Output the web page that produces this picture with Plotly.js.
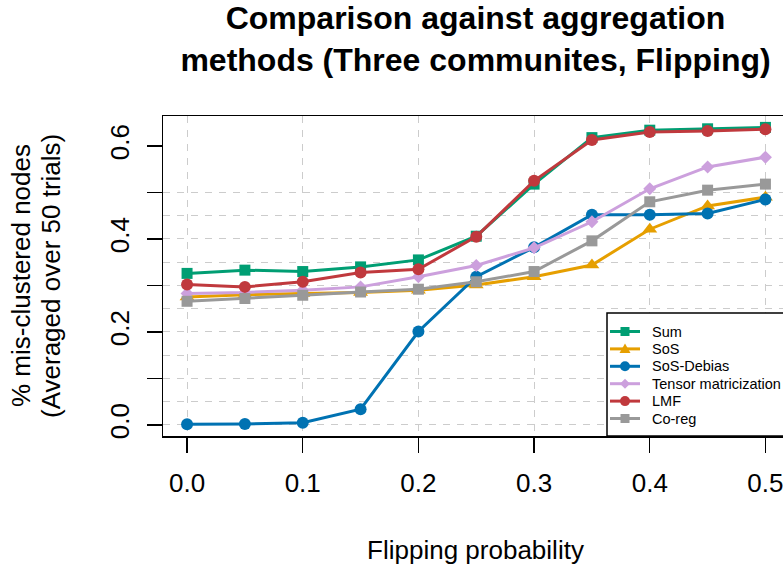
<!DOCTYPE html>
<html>
<head>
<meta charset="utf-8">
<script src="https://cdn.plot.ly/plotly-3.0.1.min.js"></script>
<style>
html, body { margin: 0; padding: 0; overflow: hidden; background: #fff; }
#chart { width: 800px; height: 567px; }
</style>
</head>
<body>
<div id="chart"></div>
<script>
// ---- data ----
const flipProb = [0, 0.05, 0.1, 0.15, 0.2, 0.25, 0.3, 0.35, 0.4, 0.45, 0.5];
const sumErr      = [0.326, 0.333, 0.330, 0.340, 0.355, 0.406, 0.518, 0.618, 0.634, 0.637, 0.640];
const sosErr      = [0.275, 0.280, 0.283, 0.285, 0.290, 0.301, 0.319, 0.344, 0.421, 0.471, 0.490];
const sosDebErr   = [0.0015, 0.002, 0.005, 0.034, 0.201, 0.319, 0.382, 0.452, 0.452, 0.455, 0.485];
const tensorErr   = [0.283, 0.285, 0.290, 0.297, 0.319, 0.343, 0.381, 0.437, 0.508, 0.555, 0.576];
const lmfErr      = [0.302, 0.297, 0.308, 0.328, 0.335, 0.405, 0.525, 0.613, 0.630, 0.632, 0.636];
const coregErr    = [0.266, 0.272, 0.279, 0.286, 0.292, 0.308, 0.330, 0.396, 0.480, 0.505, 0.518];

const seriesNames = ['Sum', 'SoS', 'SoS-Debias', 'Tensor matricization', 'LMF', 'Co-reg'];
const seriesData  = [sumErr, sosErr, sosDebErr, tensorErr, lmfErr, coregErr];

const xTickVals = [0, 0.1, 0.2, 0.3, 0.4, 0.5];
const xTickText = ['0.0', '0.1', '0.2', '0.3', '0.4', '0.5'];
const yTickVals = [0, 0.1, 0.2, 0.3, 0.4, 0.5, 0.6];
const yTickText = ['0.0', '', '0.2', '', '0.4', '', '0.6'];
const yGridVals = [0, 0.05, 0.1, 0.15, 0.2, 0.25, 0.3, 0.35, 0.4, 0.45, 0.5];

// ---- styles ----
const colors  = ['#009E73', '#E69F00', '#0072B2', '#CCA0DD', '#C0393D', '#999999'];
const symbols = ['square', 'triangle-up', 'circle', 'diamond', 'circle', 'square'];
const sizes   = [11, 13, 12, 10, 12, 11];

const FONT = 'Liberation Sans, Arial, Helvetica, sans-serif';

const traces = seriesNames.map((name, i) => ({
  x: flipProb,
  y: seriesData[i],
  name: name,
  type: 'scatter',
  mode: 'lines+markers',
  line: { color: colors[i], width: 3 },
  marker: { color: colors[i], symbol: symbols[i], size: sizes[i], line: { width: 0 } },
  cliponaxis: false,
  showlegend: false
}));

// invisible trace on overlay axis for the horizontal dashed grid
traces.unshift({
  x: [flipProb[0]], y: [yGridVals[0]], yaxis: 'y2', type: 'scatter', mode: 'markers',
  marker: { opacity: 0 }, showlegend: false, hoverinfo: 'skip'
});

const yRange = [-0.0237, 0.6645];

// ---- legend box (R-style, bottom right), built from shapes + annotations ----
const PX_L = 163, PX_W = 625, PX_B = 436, PX_H = 320;     // plot area in pixels
const px2x = p => (p - PX_L) / PX_W;
const px2y = p => (PX_B - p) / PX_H;
const legLeft = 607, legTop = 313, legRow0 = 331.5, legStep = 17.4;
const keyX0 = 610, keyX1 = 640, keyMid = 625, legTextX = 650;

function markerShape(sym, cx, cy, color) {
  const base = { xref: 'paper', yref: 'paper', xsizemode: 'pixel', ysizemode: 'pixel',
                 xanchor: cx, yanchor: cy, fillcolor: color, line: { width: 0 }, layer: 'above' };
  if (sym === 'square') return Object.assign(base, { type: 'rect', x0: -4.5, x1: 4.5, y0: -4.5, y1: 4.5 });
  if (sym === 'circle') return Object.assign(base, { type: 'circle', x0: -5, x1: 5, y0: -5, y1: 5 });
  if (sym === 'diamond') return Object.assign(base, { type: 'path', path: 'M0,-5 L5,0 L0,5 L-5,0 Z' });
  return Object.assign(base, { type: 'path', path: 'M-5.5,-4 L5.5,-4 L0,5.5 Z' });
}

const shapes = [{
  type: 'rect', xref: 'paper', yref: 'paper',
  x0: px2x(legLeft), x1: 1.02, y0: 0, y1: px2y(legTop),
  fillcolor: '#ffffff', line: { color: '#000000', width: 1.5 }, layer: 'above'
}];
const legendAnn = [];
seriesNames.forEach((name, i) => {
  const cy = px2y(legRow0 + i * legStep);
  shapes.push({ type: 'line', xref: 'paper', yref: 'paper',
    x0: px2x(keyX0), x1: px2x(keyX1), y0: cy, y1: cy,
    line: { color: colors[i], width: 3 }, layer: 'above' });
  shapes.push(markerShape(symbols[i], px2x(keyMid), cy, colors[i]));
  legendAnn.push({ text: name, xref: 'paper', yref: 'paper', x: px2x(legTextX), y: cy,
    xanchor: 'left', yanchor: 'middle', showarrow: false,
    font: { family: FONT, size: 14.5, color: '#000' } });
});

const layout = {
  width: 800,
  height: 567,
  margin: { l: 163, r: 12, t: 116, b: 131 },
  paper_bgcolor: '#ffffff',
  plot_bgcolor: '#ffffff',
  font: { family: FONT, color: '#000000' },
  showlegend: false,
  title: {
    text: '<b>Comparison against aggregation<br>methods (Three communites, Flipping)</b>',
    font: { family: FONT, size: 32, color: '#000000' },
    x: 0.5, xref: 'paper', xanchor: 'center',
    y: 0.9489, yref: 'container', yanchor: 'top',
    pad: { t: 0 }
  },
  xaxis: {
    range: [-0.0208, 0.5195],
    tickvals: xTickVals,
    ticktext: xTickText,
    ticks: 'outside', ticklen: 15, tickwidth: 1.2, tickcolor: '#000',
    tickfont: { family: FONT, size: 26, color: '#000' },
    ticklabelstandoff: 8,
    showgrid: true, gridcolor: '#cccccc', gridwidth: 1, griddash: '7px,7px',
    zeroline: false,
    showline: true, mirror: true, linecolor: '#000', linewidth: 1.5,
    title: { text: 'Flipping probability', font: { family: FONT, size: 26, color: '#000' }, standoff: 44 }
  },
  yaxis: {
    range: yRange,
    tickvals: yTickVals,
    ticktext: yTickText,
    tickangle: -90,
    ticks: 'outside', ticklen: 15, tickwidth: 1.2, tickcolor: '#000',
    tickfont: { family: FONT, size: 26, color: '#000' },
    ticklabelstandoff: 7,
    showgrid: false,
    zeroline: false,
    showline: true, mirror: true, linecolor: '#000', linewidth: 1.5
  },
  yaxis2: {
    range: yRange,
    overlaying: 'y',
    side: 'left',
    tickvals: yGridVals,
    showticklabels: false,
    ticks: '',
    showgrid: true, gridcolor: '#cccccc', gridwidth: 1, griddash: '7px,7px',
    zeroline: false, showline: false
  },
  shapes: shapes,
  annotations: [
    { text: '% mis-clustered nodes', xref: 'paper', yref: 'paper', x: -0.2272, y: 0.5,
      xanchor: 'center', yanchor: 'middle', textangle: -90, showarrow: false,
      font: { family: FONT, size: 26, color: '#000' } },
    { text: '(Averaged over 50 trials)', xref: 'paper', yref: 'paper', x: -0.1792, y: 0.5,
      xanchor: 'center', yanchor: 'middle', textangle: -90, showarrow: false,
      font: { family: FONT, size: 26, color: '#000' } }
  ].concat(legendAnn)
};

Plotly.newPlot('chart', traces, layout, { displayModeBar: false, staticPlot: true });
</script>
</body>
</html>
